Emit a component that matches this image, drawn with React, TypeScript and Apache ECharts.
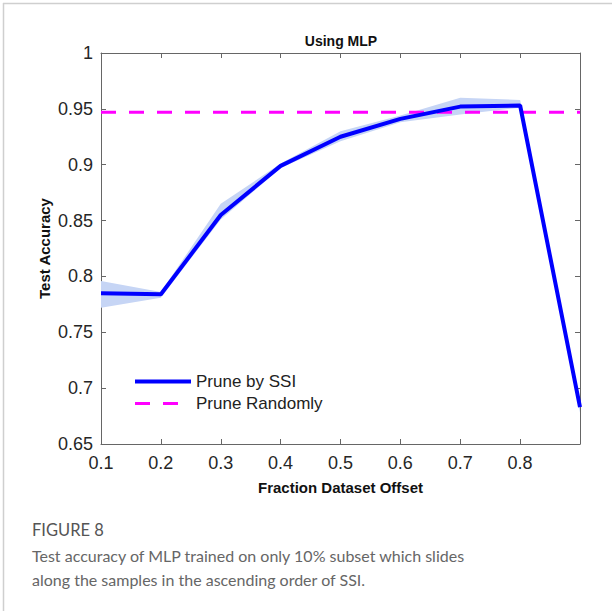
import React, { useEffect, useRef } from "react";
import * as echarts from "echarts";

const xCategories = ["0.1", "0.2", "0.3", "0.4", "0.5", "0.6", "0.7", "0.8", "0.9"];
const ssiMean = [0.785, 0.784, 0.855, 0.899, 0.925, 0.941, 0.952, 0.953, 0.683];
const ssiUpper = [0.796, 0.786, 0.865, 0.901, 0.930, 0.944, 0.960, 0.958, 0.688];
const ssiLower = [0.772, 0.781, 0.851, 0.897, 0.921, 0.938, 0.945, 0.951, 0.678];
const randomValue = 0.947;
const seriesNames = ["Prune by SSI", "Prune Randomly"];
const chartTitle = "Using MLP";
const xName = "Fraction Dataset Offset";
const yName = "Test Accuracy";
const captionHead = "FIGURE 8";
const captionLines = [
  "Test accuracy of MLP trained on only 10% subset which slides",
  "along the samples in the ascending order of SSI.",
];

const FONT = "Liberation Sans";

export default function App() {
  const ref = useRef<HTMLDivElement>(null);
  useEffect(() => {
    if (!ref.current) return;
    const chart = echarts.init(ref.current, null, { renderer: "svg" });
    const bandDiff = ssiUpper.map((u, i) => +(u - ssiLower[i]).toFixed(4));
    const axisColor = "#666";
    chart.setOption({
      animation: false,
      backgroundColor: "#fff",
      title: {
        text: chartTitle,
        left: 336,
        textAlign: "center",
        top: 29,
        textStyle: { fontFamily: FONT, fontSize: 14, fontWeight: "bold", color: "#111" },
      },
      grid: { left: 101, right: 32, top: 53, bottom: 167 },
      legend: {
        data: [
          { name: seriesNames[0], lineStyle: { width: 4 } },
          { name: seriesNames[1], lineStyle: { width: 3 } },
        ],
        orient: "vertical",
        left: 128,
        top: 368,
        itemWidth: 56,
        itemHeight: 14,
        itemGap: 5,
        itemStyle: { opacity: 0 },
        textStyle: { fontFamily: FONT, fontSize: 17, color: "#222" },
      },
      xAxis: [
        {
          type: "category",
          data: xCategories,
          boundaryGap: false,
          name: xName,
          nameLocation: "middle",
          nameGap: 36,
          nameTextStyle: { fontFamily: FONT, fontSize: 15, fontWeight: "bold", color: "#111", verticalAlign: "top" },
          axisLine: { lineStyle: { color: axisColor } },
          axisTick: { inside: true, length: 5, lineStyle: { color: axisColor } },
          axisLabel: {
            margin: 10,
            fontFamily: FONT,
            fontSize: 18,
            color: "#262626",
            formatter: (v: string, i: number) => (i === xCategories.length - 1 ? "" : v),
          },
          splitLine: { show: false },
        },
        {
          type: "category",
          data: xCategories,
          boundaryGap: false,
          position: "top",
          axisLine: { lineStyle: { color: axisColor } },
          axisTick: { inside: true, length: 5, lineStyle: { color: axisColor } },
          axisLabel: { show: false },
          splitLine: { show: false },
        },
      ],
      yAxis: [
        {
          type: "value",
          min: 0.65,
          max: 1,
          interval: 0.05,
          name: yName,
          nameLocation: "middle",
          nameGap: 49,
          nameMoveOverlap: false,
          nameTextStyle: { fontFamily: FONT, fontSize: 15, fontWeight: "bold", color: "#111" },
          axisLine: { show: true, lineStyle: { color: axisColor } },
          axisTick: { show: true, inside: true, length: 5, lineStyle: { color: axisColor } },
          axisLabel: {
            margin: 8,
            fontFamily: FONT,
            fontSize: 18,
            color: "#262626",
            formatter: (v: number) => String(+v.toFixed(2)),
          },
          splitLine: { show: false },
        },
        {
          type: "value",
          min: 0.65,
          max: 1,
          interval: 0.05,
          position: "right",
          axisLine: { show: true, lineStyle: { color: axisColor } },
          axisTick: { show: true, inside: true, length: 5, lineStyle: { color: axisColor } },
          axisLabel: { show: false },
          splitLine: { show: false },
        },
      ],
      series: [
        {
          name: "band-lower",
          type: "line",
          data: ssiLower,
          stack: "band",
          symbol: "none",
          lineStyle: { opacity: 0 },
          silent: true,
          z: 1,
        },
        {
          name: "band-range",
          type: "line",
          data: bandDiff,
          stack: "band",
          symbol: "none",
          lineStyle: { opacity: 0 },
          areaStyle: { color: "#c6d5f5", opacity: 1 },
          silent: true,
          z: 1,
        },
        {
          name: seriesNames[1],
          type: "line",
          data: xCategories.map(() => randomValue),
          symbol: "none",
          lineStyle: { color: "#ff00ff", width: 3, type: [15, 13] },
          itemStyle: { color: "#ff00ff" },
          z: 3,
        },
        {
          name: seriesNames[0],
          type: "line",
          data: ssiMean,
          symbol: "none",
          lineStyle: { color: "#0000ff", width: 4 },
          itemStyle: { color: "#0000ff" },
          z: 4,
        },
      ],
      graphic: [
        { type: "line", shape: { x1: 3, y1: 3.5, x2: 612, y2: 3.5 }, style: { stroke: "#cfcfcf", lineWidth: 1.5 } },
        { type: "line", shape: { x1: 3.5, y1: 3, x2: 3.5, y2: 611 }, style: { stroke: "#cfcfcf", lineWidth: 1.5 } },
        {
          type: "text",
          left: 32,
          top: 521,
          style: { text: captionHead, fontFamily: "Lato", fontSize: 16.5, fill: "#555" },
        },
        {
          type: "text",
          left: 32,
          top: 543,
          style: {
            text: captionLines.join("\n"),
            fontFamily: "Lato",
            fontSize: 16,
            lineHeight: 24,
            fill: "#666",
          },
        },
      ],
    });
    return () => chart.dispose();
  }, []);
  return <div ref={ref} style={{ position: "fixed", left: 0, top: 0, width: 612, height: 611 }} />;
}
